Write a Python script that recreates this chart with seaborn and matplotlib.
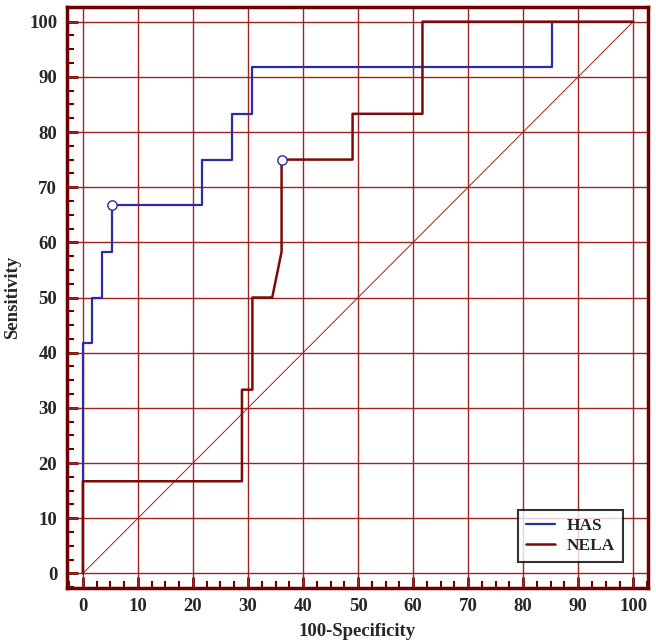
import numpy as np
import pandas as pd
import matplotlib
matplotlib.use("Agg")
import matplotlib.pyplot as plt
import seaborn as sns
from matplotlib.ticker import MultipleLocator

# ROC curve vertices (100-Specificity, Sensitivity)
has_fpr = [0, 0, 1.6, 1.6, 3.5, 3.5, 5.3, 5.3, 21.7, 21.7, 27.1, 27.1, 30.8, 30.8, 85.3, 85.3]
has_tpr = [0, 41.7, 41.7, 50, 50, 58.3, 58.3, 66.7, 66.7, 75, 75, 83.3, 83.3, 91.7, 91.7, 100]
nela_fpr = [0, 0, 28.9, 28.9, 30.8, 30.8, 34.4, 36.1, 36.1, 49.0, 49.0, 61.7, 61.7, 100]
nela_tpr = [0, 16.7, 16.7, 33.3, 33.3, 50, 50, 58.3, 75, 75, 83.3, 83.3, 100, 100]

# optimal cut-off points
cut_fpr = [5.3, 36.1]
cut_tpr = [66.7, 75]

ticks = list(range(0, 101, 10))

sns.set_style("white")
plt.rcParams['font.family'] = ['Liberation Serif', 'DejaVu Serif']
plt.rcParams['font.weight'] = 'bold'

grid_col = '#9e2424'
spine_col = '#6e0000'
blue = '#2b2ba6'
red = '#7d0a0a'

fig = plt.figure(figsize=(6.56, 6.44), dpi=100)
ax = fig.add_axes([0.102, 0.0865, 0.886, 0.903])

# grid
for t in ticks:
    ax.axvline(t, color=grid_col, lw=1.0, zorder=1)
    ax.axhline(t, color=grid_col, lw=1.0, zorder=1)

# reference diagonal
ax.plot([0, 100], [0, 100], color='#a52020', lw=0.7, zorder=2)

df_has = pd.DataFrame({'x': has_fpr, 'y': has_tpr})
df_nela = pd.DataFrame({'x': nela_fpr, 'y': nela_tpr})
sns.lineplot(data=df_has, x='x', y='y', sort=False, estimator=None, color=blue,
             lw=1.6, label='HAS', ax=ax, zorder=3)
sns.lineplot(data=df_nela, x='x', y='y', sort=False, estimator=None, color=red,
             lw=1.8, label='NELA', ax=ax, zorder=4)
ax.scatter(cut_fpr, cut_tpr, s=45, facecolor='white', edgecolor=blue, lw=1.0, zorder=5)

ax.set_xlim(-2.9, 102.7)
ax.set_ylim(-2.7, 102.7)
ax.set_xticks(ticks)
ax.set_yticks(ticks)
ax.xaxis.set_minor_locator(MultipleLocator(2.5))
ax.yaxis.set_minor_locator(MultipleLocator(2.5))
ax.tick_params(which='major', direction='in', length=8, width=2, color=spine_col,
               labelsize=13.5, pad=7)
ax.tick_params(which='minor', direction='in', length=5, width=1.5, color=spine_col)
ax.tick_params(axis='x', which='both', bottom=True, top=False)
ax.tick_params(axis='y', which='both', left=True, right=False)
for lab in ax.get_xticklabels() + ax.get_yticklabels():
    lab.set_fontweight('bold')

for s in ax.spines.values():
    s.set_color(spine_col)
    s.set_linewidth(2.5)
    s.set_visible(True)

ax.set_xlabel('100-Specificity', fontsize=13.5, fontweight='bold', labelpad=6)
ax.set_ylabel('Sensitivity', fontsize=13.5, fontweight='bold', labelpad=6)

leg = ax.legend(loc='lower right', bbox_to_anchor=(0.957, 0.045), borderaxespad=0,
                frameon=True, fancybox=False, edgecolor='black', fontsize=12.5,
                handlelength=1.7, borderpad=0.45, labelspacing=0.25, handletextpad=0.7)
leg.get_frame().set_linewidth(1.5)
for t in leg.get_texts():
    t.set_fontweight('bold')

fig.savefig('out.png', dpi=100)
